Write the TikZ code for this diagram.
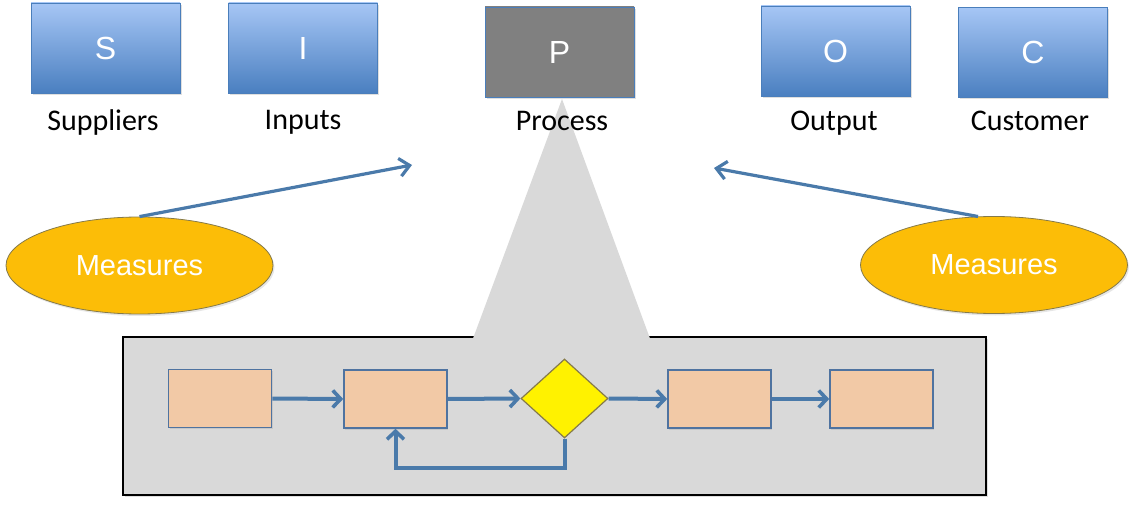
\documentclass[tikz,border=0pt]{standalone}
\usepackage{fontspec}
\setmainfont{Carlito}
\newfontfamily\arialf{Liberation Sans}
\usetikzlibrary{arrows.meta,shapes.geometric,shadows}
\definecolor{blueline}{HTML}{4A7EBB}
\definecolor{bluetop}{HTML}{A6C6F5}
\definecolor{bluebot}{HTML}{4A7FC0}
\definecolor{arrowblue}{HTML}{4A7AAA}
\definecolor{peach}{HTML}{F2C9A6}
\definecolor{peachline}{HTML}{4F73A0}
\definecolor{graybg}{HTML}{D9D9D9}
\definecolor{goldfill}{HTML}{FCBD07}
\definecolor{goldline}{HTML}{857A4A}
\definecolor{pgray}{HTML}{808080}
\begin{document}
\begin{tikzpicture}[x=1pt,y=-1pt,
  bluebox/.style={rectangle, draw=blueline, line width=0.8pt, top color=bluetop, bottom color=bluebot,
    minimum width=149pt, minimum height=90pt, inner sep=0pt, text=white,
    font=\arialf\fontsize{32}{38}\selectfont,
    drop shadow={opacity=0.25, shadow xshift=1.5pt, shadow yshift=-2pt}},
  pbox/.style={bluebox, fill=pgray, top color=pgray, bottom color=pgray},
  lbl/.style={anchor=base, font=\fontsize{30}{36}\selectfont, text=black},
  meas/.style={ellipse, draw=goldline, line width=0.8pt, fill=goldfill, minimum width=267pt, minimum height=97pt,
    inner sep=0pt, text=white, font=\arialf\fontsize{29}{34}\selectfont,
    drop shadow={opacity=0.2, shadow xshift=1.5pt, shadow yshift=-2pt}},
  measarrow/.style={draw=arrowblue, line width=3.2pt, -{Straight Barb[length=10pt,width=18pt,line width=3.2pt]}},
  flowbox/.style={rectangle, draw=peachline, line width=1.6pt, fill=peach, minimum width=103pt, minimum height=58pt, inner sep=0pt,
    drop shadow={opacity=0.2, shadow xshift=1pt, shadow yshift=-1.5pt}},
  decbox/.style={diamond, draw=goldline, line width=1.2pt, fill=yellow, minimum width=87pt, minimum height=79pt, inner sep=0pt, aspect=1.1},
  flowarrow/.style={draw=arrowblue, line width=4pt, -{Straight Barb[length=8pt,width=17pt,line width=3.6pt]}},
  panel/.style={draw=black, line width=1.6pt, fill=graybg,
    drop shadow={opacity=0.25, shadow xshift=1.5pt, shadow yshift=-2pt}}
]
\useasboundingbox (0,0) rectangle (1133,505);

% top boxes
\node[bluebox] (S) at (105.5,48) {S};
\node[bluebox] (I) at (303,48) {I};
\node[pbox] (P) at (559.5,52) {P};
\node[bluebox] (O) at (835.5,51) {O};
\node[bluebox] (C) at (1033,52.5) {C};

% bottom panel and zoom triangle
\path[panel] (123,337) rectangle (986,495);
\fill[graybg] (562,99) -- (473,338.5) -- (650,338.5) -- cycle;

% labels
\node[lbl] (Ls) at (103,131) {Suppliers};
\node[lbl] (Li) at (303,130) {Inputs};
\node[lbl] (Lp) at (562,131) {Process};
\node[lbl] (Lo) at (834,131) {Output};
\node[lbl] (Lc) at (1030,131) {Customer};

% measures
\node[meas] (M1) at (139.5,265.5) {Measures};
\node[meas] (M2) at (994,265) {Measures};
\coordinate (tipL) at (412,165);
\coordinate (tipR) at (714,168);
\coordinate (startR) at (978,216.5);
\draw[measarrow] (M1.north) -- (tipL);
\draw[measarrow] (startR) -- (tipR);

% flow
\node[flowbox] (B1) at (220,398.5) {};
\node[flowbox] (B2) at (395.5,399) {};
\node[decbox] (D) at (564.5,398.5) {};
\node[flowbox] (B3) at (719.5,399) {};
\node[flowbox] (B4) at (881.5,399) {};
\draw[flowarrow] (B1.east) -- (B2.west);
\draw[flowarrow] (B2.east) -- (D.west);
\draw[flowarrow] (D.east) -- (B3.west);
\draw[flowarrow] (B3.east) -- (B4.west);
\draw[flowarrow] (D.south) -- ++(0,29) -| (B2.south);
\end{tikzpicture}
\end{document}
